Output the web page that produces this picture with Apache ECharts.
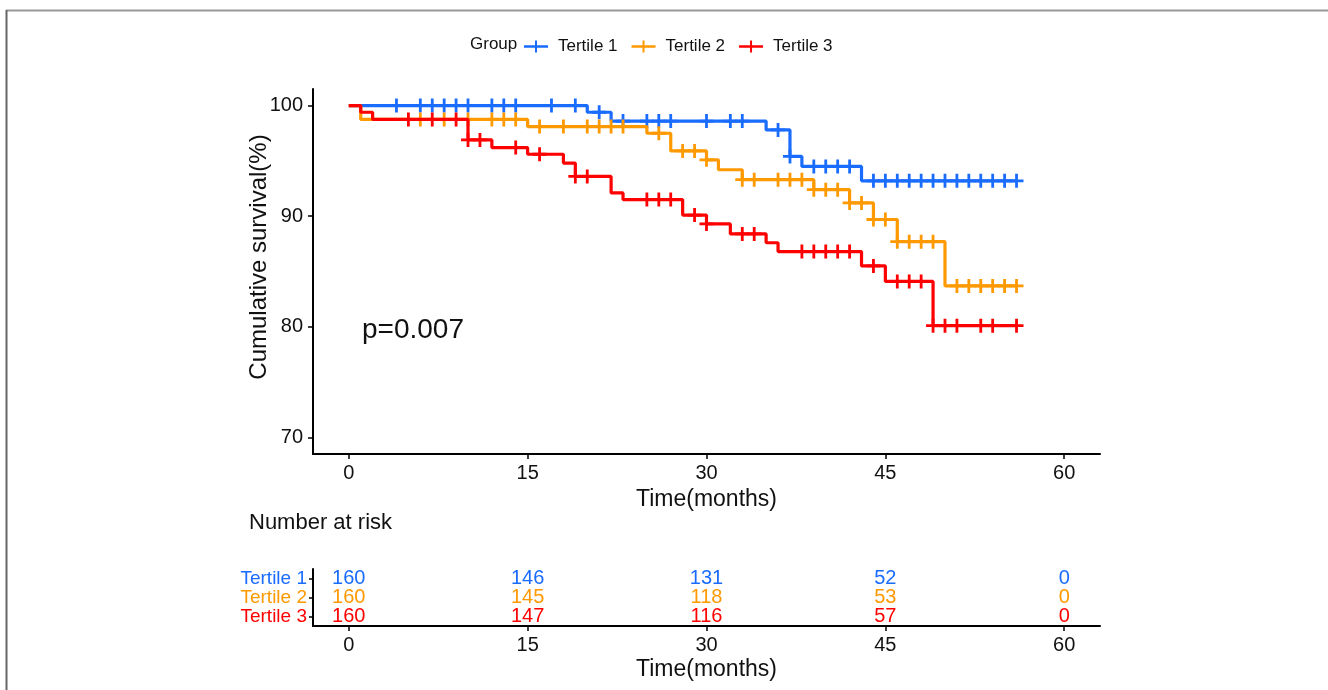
<!DOCTYPE html>
<html>
<head>
<meta charset="utf-8">
<script src="https://cdn.jsdelivr.net/npm/echarts@6/dist/echarts.min.js"></script>
<style>
html,body{margin:0;padding:0;background:#fff}
#chart{width:1328px;height:690px}
</style>
</head>
<body>
<div id="chart"></div>
<script>
// groups and colours
const groups = ['Tertile 1', 'Tertile 2', 'Tertile 3'];
const colors = ['#1a6cff', '#ff9900', '#ff0000'];

// KM steps: [time in months, cumulative survival %]
const steps1 = [[0,100],[20,99.4],[22,98.6],[35,97.8],[37,95.4],[38,94.5],[43,93.2],[56,93.2]];
const steps2 = [[0,100],[1,98.75],[15,98.1],[25,97.5],[27,95.9],[30,95.1],[31,94.2],[33,93.3],[39,92.4],[42,91.2],[44,89.7],[46,87.7],[50,83.7],[56,83.7]];
const steps3 = [[0,100],[1,99.4],[2,98.75],[10,96.9],[12,96.2],[15,95.6],[18,94.8],[19,93.6],[22,92.1],[23,91.5],[28,90.1],[30,89.3],[32,88.4],[35,87.6],[36,86.8],[43,85.5],[45,84.1],[49,80.1],[56,80.1]];

// censoring times
const censor1 = [4,6,7,8,9,10,12,13,14,17,19,21,23,25,26,27,30,32,33,36,37,39,40,41,42,44,45,46,47,48,49,50,51,52,53,54,55,56];
const censor2 = [6,8,10,12,13,14,16,18,20,21,22,23,26,28,29,30,33,34,36,37,38,39,40,41,42,43,44,45,46,47,48,49,51,52,53,54,55,56];
const censor3 = [5,7,9,10,11,14,16,19,20,25,26,27,29,30,33,34,38,39,40,41,42,44,46,47,48,49,50,51,53,54,56];

// number at risk table
const riskTimes = [0, 15, 30, 45, 60];
const risk1 = [160, 146, 131, 52, 0];
const risk2 = [160, 145, 118, 53, 0];
const risk3 = [160, 147, 116, 57, 0];

const xTicks = [0, 15, 30, 45, 60];
const yTicks = [70, 80, 90, 100];
const riskRows = ['Tertile 3', 'Tertile 2', 'Tertile 1']; // bottom to top

const FONT = '"Liberation Sans", Arial, sans-serif';
const INK = '#111';

// survival value at time t (step function, right-continuous)
const survAt = (steps, t) => {
    let v = steps[0][1];
    steps.forEach(p => { if (p[0] <= t) v = p[1]; });
    return v;
};

const plusPath = 'path://M4,0H6V4H10V6H6V10H4V6H0V4H4Z';
const legendIcon = 'path://M0,4.7H24V7.3H0Z M11,0H13V12H11Z';

const allSteps = [steps1, steps2, steps3];
const allCensor = [censor1, censor2, censor3];
const allRisk = [risk1, risk2, risk3];

const series = [];
groups.forEach((g, i) => {
    series.push({
        name: g,
        type: 'line',
        step: 'end',
        xAxisIndex: 0, yAxisIndex: 0,
        showSymbol: false,
        symbol: 'none',
        color: colors[i],
        lineStyle: {width: 3.2, color: colors[i]},
        data: allSteps[i],
        z: 2 + i
    });
});
groups.forEach((g, i) => {
    series.push({
        name: g + ' censor',
        type: 'scatter',
        xAxisIndex: 0, yAxisIndex: 0,
        symbol: plusPath,
        symbolSize: 14,
        itemStyle: {color: colors[i], opacity: 1},
        data: allCensor[i].map(t => [t, survAt(allSteps[i], t)]),
        z: 2 + i
    });
});
// risk table numbers
groups.forEach((g, i) => {
    series.push({
        name: g + ' risk',
        type: 'scatter',
        xAxisIndex: 1, yAxisIndex: 1,
        symbolSize: 1,
        itemStyle: {color: 'transparent', opacity: 1},
        label: {
            show: true,
            position: 'inside',
            formatter: p => String(p.value[2]),
            color: colors[i],
            fontFamily: FONT,
            fontSize: 20
        },
        data: riskTimes.map((t, k) => [t, g, allRisk[i][k]])
    });
});

const timeAxis = (gridIndex) => ({
    gridIndex: gridIndex, type: 'value', min: -3, max: 63,
    name: 'Time(months)', nameLocation: 'middle', nameGap: 32,
    nameTextStyle: {fontFamily: FONT, fontSize: 23, color: INK},
    axisLine: {show: true, onZero: false, lineStyle: {color: '#000', width: 2}},
    axisTick: {show: true, customValues: xTicks, length: 5, lineStyle: {color: '#000', width: 1.5}},
    axisLabel: {customValues: xTicks, margin: 9, fontFamily: FONT, fontSize: 20, color: INK},
    splitLine: {show: false}
});

const chart = echarts.init(document.getElementById('chart'));
chart.setOption({
    backgroundColor: '#fff',
    animation: false,
    legend: {
        data: groups,
        left: 524,
        top: 38,
        padding: 0,
        icon: legendIcon,
        itemWidth: 24,
        itemHeight: 12,
        itemGap: 14,
        textStyle: {fontFamily: FONT, fontSize: 17, color: INK, padding: [0, 0, 0, 5]}
    },
    grid: [
        {left: 313, right: 228, top: 89, height: 365},
        {left: 313, right: 228, top: 569, height: 57}
    ],
    xAxis: [timeAxis(0), timeAxis(1)],
    yAxis: [
        {
            gridIndex: 0, type: 'value', min: 68.5, max: 101.5,
            axisLine: {show: true, onZero: false, lineStyle: {color: '#000', width: 2}},
            axisTick: {show: true, customValues: yTicks, length: 5, lineStyle: {color: '#000', width: 1.5}},
            axisLabel: {customValues: yTicks, margin: 10, fontFamily: FONT, fontSize: 20, color: INK},
            splitLine: {show: false}
        },
        {
            gridIndex: 1, type: 'category', data: riskRows,
            axisLine: {show: true, onZero: false, lineStyle: {color: '#000', width: 2}},
            axisTick: {show: true, interval: 0, alignWithLabel: true, length: 4, lineStyle: {color: '#000', width: 1.5}},
            axisLabel: {
                interval: 0, margin: 6, fontFamily: FONT, fontSize: 19,
                color: (v) => colors[groups.indexOf(v)]
            },
            splitLine: {show: false}
        }
    ],
    graphic: [
        {type: 'line', shape: {x1: 6, y1: 10.5, x2: 1328, y2: 10.5}, style: {stroke: '#999', lineWidth: 2}},
        {type: 'line', shape: {x1: 6.5, y1: 10, x2: 6.5, y2: 690}, style: {stroke: '#666', lineWidth: 2}},
        {type: 'text', x: 470, y: 44, style: {text: 'Group', font: '17px ' + FONT, fill: INK, verticalAlign: 'middle'}},
        {type: 'text', x: 259, y: 257, rotation: Math.PI / 2,
            style: {text: 'Cumulative survival(%)', font: '24px ' + FONT, fill: INK, align: 'center', verticalAlign: 'middle'}},
        {type: 'text', x: 362, y: 330,
            style: {text: 'p=0.007', font: '28px ' + FONT, fill: INK, align: 'left', verticalAlign: 'middle'}},
        {type: 'text', x: 249, y: 523,
            style: {text: 'Number at risk', font: '22px ' + FONT, fill: INK, align: 'left', verticalAlign: 'middle'}}
    ],
    series: series
});
</script>
</body>
</html>
